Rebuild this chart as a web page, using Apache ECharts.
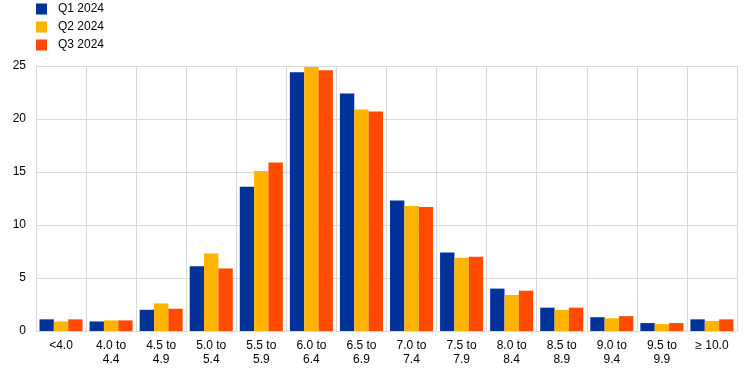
<!DOCTYPE html>
<html><head><meta charset="utf-8">
<script src="https://cdn.jsdelivr.net/npm/echarts@6/dist/echarts.min.js"></script>
<style>html,body{margin:0;padding:0;background:#fff}#c{width:744px;height:373px}</style>
</head><body><div id="c"></div>
<script>
var categories = ['<4.0','4.0 to\n4.4','4.5 to\n4.9','5.0 to\n5.4','5.5 to\n5.9','6.0 to\n6.4','6.5 to\n6.9','7.0 to\n7.4','7.5 to\n7.9','8.0 to\n8.4','8.5 to\n8.9','9.0 to\n9.4','9.5 to\n9.9','\u2265 10.0'];
var q1 = [1.1,0.9,2.0,6.1,13.6,24.4,22.4,12.3,7.4,4.0,2.2,1.3,0.75,1.1];
var q2 = [0.9,1.0,2.6,7.3,15.1,24.9,20.9,11.8,6.9,3.4,2.0,1.2,0.65,0.95];
var q3 = [1.1,1.0,2.1,5.9,15.9,24.6,20.7,11.7,7.0,3.8,2.2,1.4,0.75,1.1];
var seriesNames = ['Q1 2024','Q2 2024','Q3 2024'];
var colors = ['#003299','#FFB400','#FF4B00'];
var yTicks = {min:0,max:25,interval:5};

var chart = echarts.init(document.getElementById('c'));
var font = 'Arial, "Liberation Sans", sans-serif';
chart.setOption({
  animation:false,
  color: colors,
  textStyle:{fontFamily:font},
  legend:{orient:'vertical',left:36,top:3,padding:0,itemWidth:11,itemHeight:11,itemGap:6,icon:'rect',
    textStyle:{fontSize:12,color:'#000',fontFamily:font,padding:[0,0,0,6]},data:seriesNames},
  grid:{left:36,right:7,top:66,bottom:42,containLabel:false},
  xAxis:{type:'category',data:categories,
    axisLine:{lineStyle:{color:'#d9d9d9'}},axisTick:{show:false},
    splitLine:{show:true,lineStyle:{color:'#d9d9d9',width:1}},
    axisLabel:{color:'#000',fontSize:12,fontFamily:font,interval:0,margin:8,lineHeight:14}},
  yAxis:{type:'value',min:yTicks.min,max:yTicks.max,interval:yTicks.interval,
    axisLine:{show:false},axisTick:{show:false},
    splitLine:{lineStyle:{color:'#d9d9d9',width:1}},
    axisLabel:{color:'#000',fontSize:12,fontFamily:font,margin:10}},
  series:[
    {name:seriesNames[0],type:'bar',data:q1,barGap:'0%',barCategoryGap:'14%'},
    {name:seriesNames[1],type:'bar',data:q2,barGap:'0%',barCategoryGap:'14%'},
    {name:seriesNames[2],type:'bar',data:q3,barGap:'0%',barCategoryGap:'14%'}
  ]
});
</script></body></html>
